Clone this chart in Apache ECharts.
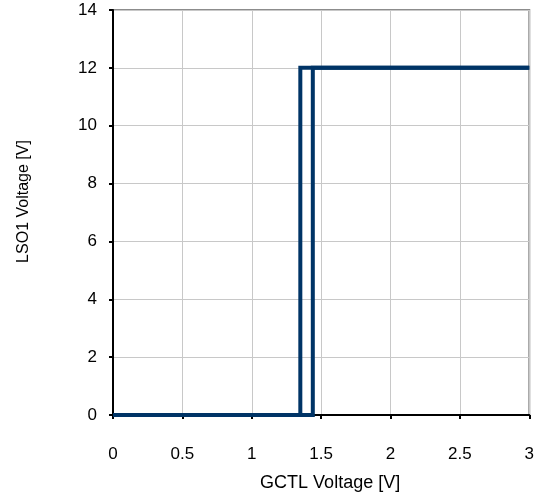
<!DOCTYPE html>
<html>
<head>
<meta charset="utf-8">
<script src="https://cdn.jsdelivr.net/npm/echarts@6/dist/echarts.min.js"></script>
<style>html,body{margin:0;padding:0;background:#fff;}#c{width:537px;height:497px;}</style>
</head>
<body>
<div id="c"></div>
<script>
// GCTL voltage (x, V) vs LSO1 voltage (y, V)
const risingX = [0, 1.35, 1.35, 3];
const risingY = [0, 0, 12, 12];
const fallingX = [0, 1.44, 1.44, 3];
const fallingY = [0, 0, 12, 12];
const xTicks = [0, 0.5, 1, 1.5, 2, 2.5, 3];
const yTicks = [0, 2, 4, 6, 8, 10, 12, 14];

const pair = (xs, ys) => xs.map((x, i) => [x, ys[i]]);
const tickFont = '"Liberation Sans", Arial, sans-serif';
const nameFont = '"Liberation Sans", Arial, sans-serif';

const chart = echarts.init(document.getElementById('c'), null, {renderer: 'canvas'});
chart.setOption({
  animation: false,
  backgroundColor: '#ffffff',
  grid: {left: 113, right: 7, top: 10, bottom: 82, show: true, borderColor: '#8c8c8c', borderWidth: 2, backgroundColor: 'transparent'},
  xAxis: {
    type: 'value', min: xTicks[0], max: xTicks[xTicks.length - 1], interval: 0.5,
    name: 'GCTL Voltage [V]', nameLocation: 'middle', nameGap: 59,
    nameTextStyle: {fontFamily: nameFont, fontSize: 18, color: '#000', padding: [0, 0, 0, 18]},
    axisLine: {show: true, onZero: false, lineStyle: {color: '#000', width: 2}},
    axisTick: {show: true, inside: false, length: 4, lineStyle: {color: '#000', width: 2}},
    axisLabel: {color: '#000', fontFamily: tickFont, fontSize: 17, margin: 31},
    splitLine: {show: true, lineStyle: {color: '#c8c8c8', width: 1}}
  },
  yAxis: {
    type: 'value', min: yTicks[0], max: yTicks[yTicks.length - 1], interval: 2,
    name: 'LSO1 Voltage [V]', nameLocation: 'middle', nameGap: 81,
    nameTextStyle: {fontFamily: nameFont, fontSize: 16, color: '#000', padding: [0, 0, 0, 22]},
    axisLine: {show: true, lineStyle: {color: '#000', width: 2}},
    axisTick: {show: true, inside: false, length: 4, lineStyle: {color: '#000', width: 2}},
    axisLabel: {color: '#000', fontFamily: tickFont, fontSize: 17, margin: 16},
    splitLine: {show: true, lineStyle: {color: '#c8c8c8', width: 1}}
  },
  series: [
    {type: 'line', data: pair(risingX, risingY), showSymbol: false, symbol: 'none', clip: false,
     lineStyle: {color: '#003466', width: 4, join: 'miter'}, itemStyle: {color: '#003466'}},
    {type: 'line', data: pair(fallingX, fallingY), showSymbol: false, symbol: 'none', clip: false,
     lineStyle: {color: '#003466', width: 4, join: 'miter'}, itemStyle: {color: '#003466'}}
  ]
});
</script>
</body>
</html>
